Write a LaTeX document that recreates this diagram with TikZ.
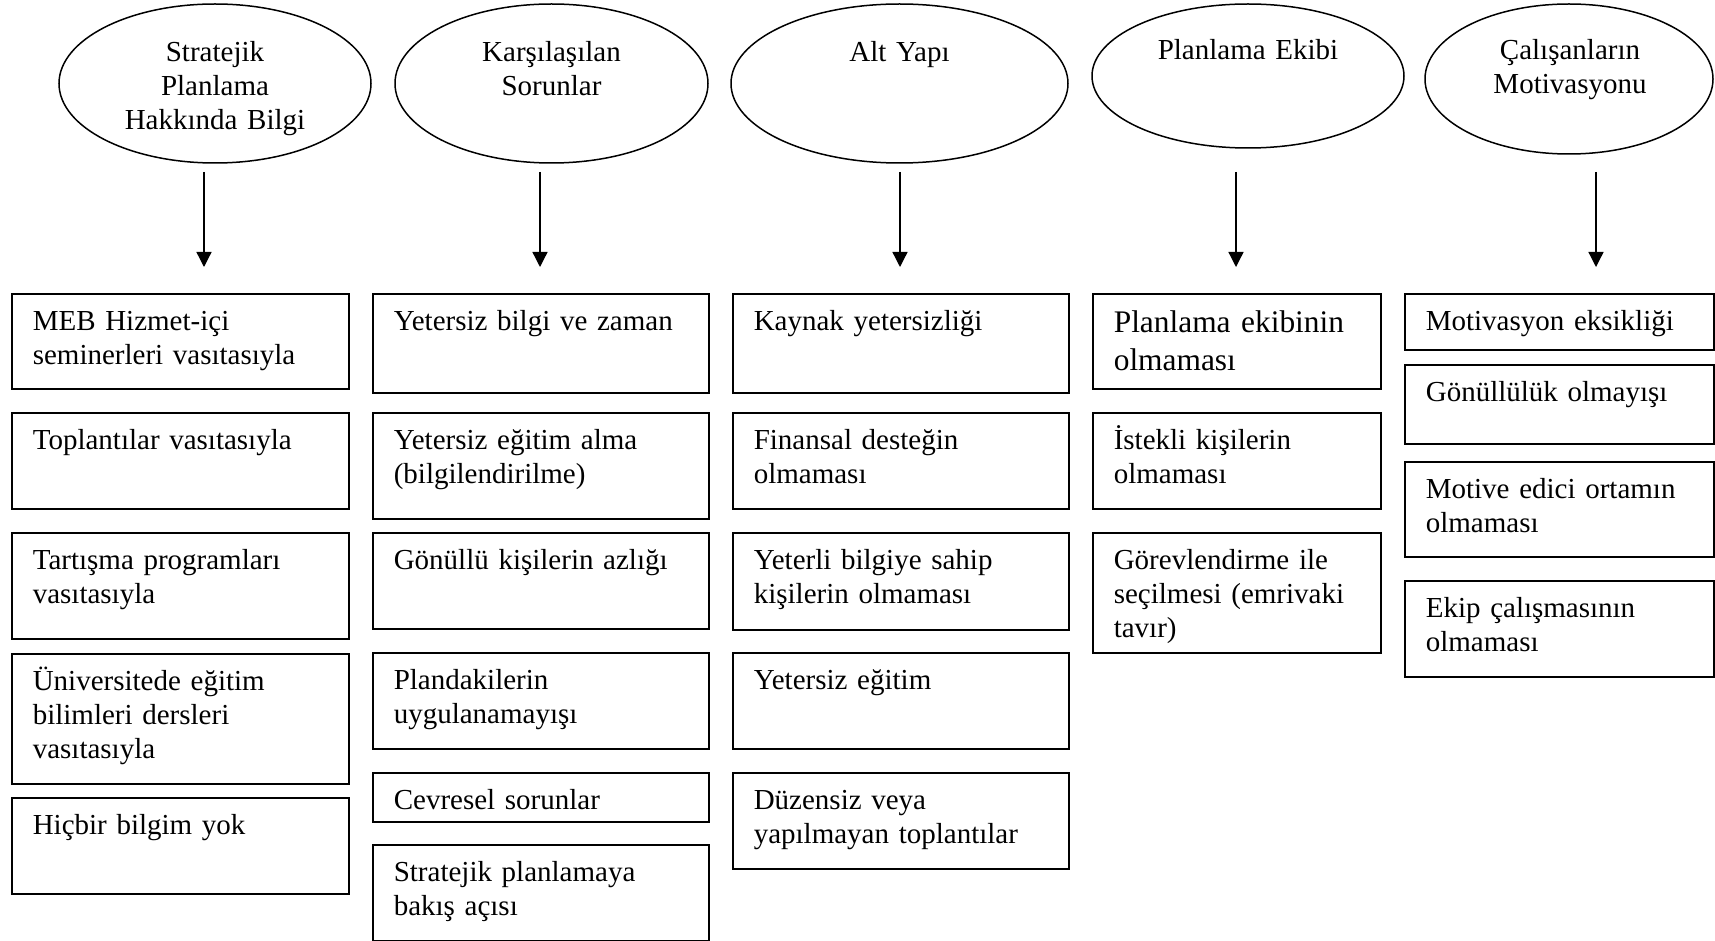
\documentclass[tikz,border=0pt]{standalone}
\usepackage{fontspec}
\setmainfont{Liberation Serif}
\usetikzlibrary{shapes.geometric,arrows.meta}

\tikzset{
  topic/.style 2 args={draw, ellipse, line width=0.75pt, minimum width=#1, minimum height=#2, inner sep=0pt},
  topictext/.style={anchor=base, align=center, text width=150pt, inner sep=0pt},
  item/.style 2 args={draw, line width=0.8pt, anchor=north west, align=left, inner xsep=10.5pt, inner ysep=0pt,
    text width=#1, text height=18.5pt, text depth=#2},
  colA/.style={item={147.5pt}{#1}},
  colB/.style={item={147pt}{#1}},
  colC/.style={item={123pt}{#1}},
  colD/.style={item={133.5pt}{#1}},
  arr/.style={-{Triangle[width=7.5pt,length=7.5pt]}, line width=0.65pt}
}

\begin{document}
\begin{tikzpicture}[x=0.5pt, y=-0.5pt, font=\fontsize{14.5}{17}\selectfont]
\useasboundingbox (0,0) rectangle (1715,941);

% ust basliklar
\node[topic={156pt}{79.5pt}] (e1) at (215,83.5) {};
\node[topic={156.5pt}{79.5pt}] (e2) at (551.5,83.5) {};
\node[topic={168.5pt}{79.5pt}] (e3) at (899.5,83.5) {};
\node[topic={156pt}{72pt}] (e4) at (1248,76) {};
\node[topic={144pt}{75pt}] (e5) at (1569,79) {};

\node[topictext] (e1t) at (215,62) {Stratejik\\Planlama\\Hakkında Bilgi};
\node[topictext] (e2t) at (551.5,62) {Karşılaşılan\\Sorunlar};
\node[topictext] (e3t) at (899.5,62) {Alt Yapı};
\node[topictext] (e4t) at (1248,60) {Planlama Ekibi};
\node[topictext] (e5t) at (1570,60) {Çalışanların\\Motivasyonu};

\foreach \i/\x in {1/204,2/540,3/900,4/1236,5/1596} {
  \coordinate (a\i) at (\x,172);
  \coordinate (t\i) at (\x,267);
  \draw[arr] (a\i) -- (t\i);
}

% sutun 1
\node[colA=29pt]   (b11) at (11,293) {MEB Hizmet-içi\\seminerleri vasıtasıyla};
\node[colA=29.5pt] (b12) at (11,412) {Toplantılar vasıtasıyla};
\node[colA=34.5pt] (b13) at (11,532) {Tartışma programları\\vasıtasıyla};
\node[colA=46.5pt] (b14) at (11,653) {Üniversitede eğitim\\bilimleri dersleri\\vasıtasıyla};
\node[colA=29.5pt] (b15) at (11,797) {Hiçbir bilgim yok};

% sutun 2
\node[colB=31pt]   (b21) at (372,293) {Yetersiz bilgi ve zaman};
\node[colB=34.5pt] (b22) at (372,412) {Yetersiz eğitim alma\\(bilgilendirilme)};
\node[colB=29.5pt] (b23) at (372,532) {Gönüllü kişilerin azlığı};
\node[colB=29.5pt] (b24) at (372,652) {Plandakilerin\\uygulanamayışı};
\node[colB=6pt]    (b25) at (372,772) {Cevresel sorunlar};
\node[colB=29.5pt] (b26) at (372,844) {Stratejik planlamaya\\bakış açısı};

% sutun 3
\node[colB=31pt]   (b31) at (732,293) {Kaynak yetersizliği};
\node[colB=29.5pt] (b32) at (732,412) {Finansal desteğin\\olmaması};
\node[colB=30pt]   (b33) at (732,532) {Yeterli bilgiye sahip\\kişilerin olmaması};
\node[colB=29.5pt] (b34) at (732,652) {Yetersiz eğitim};
\node[colB=29.5pt] (b35) at (732,772) {Düzensiz veya\\yapılmayan toplantılar};

% sutun 4
\node[colC=28pt, text height=19.5pt, font=\fontsize{15.7}{19}\selectfont] (b41) at (1092,293) {Planlama ekibinin\\olmaması};
\node[colC=29.5pt] (b42) at (1092,412) {İstekli kişilerin\\olmaması};
\node[colC=41.5pt] (b43) at (1092,532) {Görevlendirme ile\\seçilmesi (emrivaki\\tavır)};

% sutun 5
\node[colD=9.5pt]  (b51) at (1404,293) {Motivasyon eksikliği};
\node[colD=21pt]   (b52) at (1404,364) {Gönüllülük olmayışı};
\node[colD=29pt]   (b53) at (1404,461) {Motive edici ortamın\\olmaması};
\node[colD=29.5pt] (b54) at (1404,580) {Ekip çalışmasının\\olmaması};

\end{tikzpicture}
\end{document}
